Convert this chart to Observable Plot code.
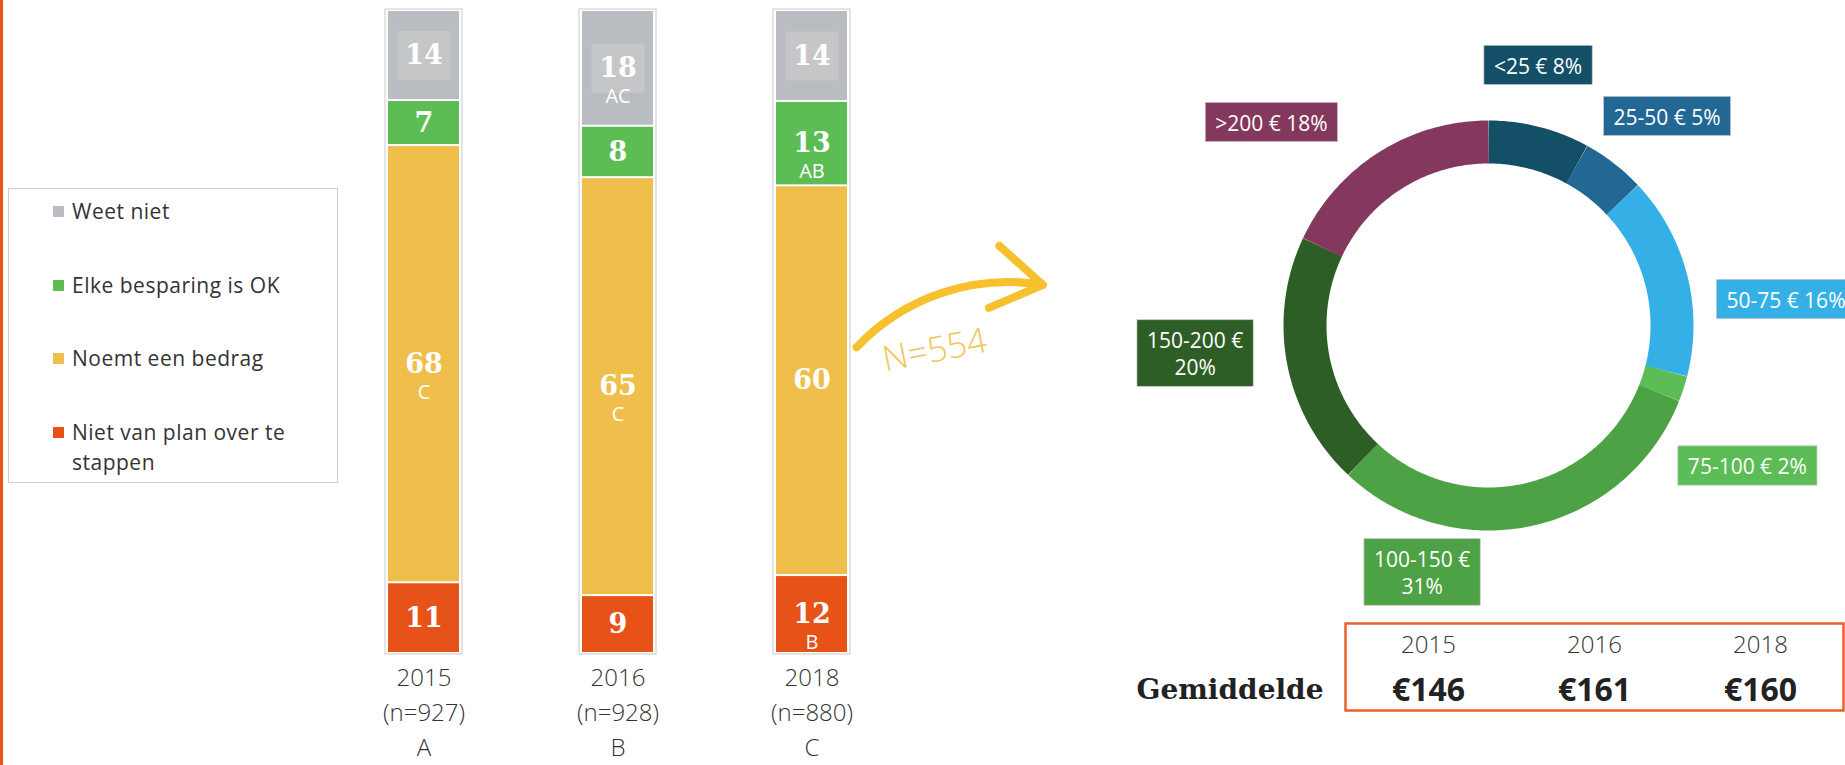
<!DOCTYPE html>
<html>
<head>
<meta charset="utf-8">
<script src="https://cdn.jsdelivr.net/npm/d3@7"></script>
<script src="https://cdn.jsdelivr.net/npm/@observablehq/plot@0.6"></script>
<style>
html, body { margin: 0; padding: 0; background: #fff; }
#root { position: relative; width: 1845px; height: 765px; overflow: hidden; font-family: "Open Sans", sans-serif; }
.abs { position: absolute; }
#edge { left: 0; top: 0; width: 3px; height: 765px; background: #e8541c; }
#legend { left: 8px; top: 188px; width: 330px; height: 295px; border: 1px solid #cfcfcf; box-sizing: border-box; }
.item { position: absolute; left: 44px; display: flex; align-items: flex-start; font-size: 21px; letter-spacing: 0.5px; color: #333; line-height: 30px; width: 270px; }
.sw { width: 11px; height: 11px; margin-right: 8px; margin-top: 10px; flex: none; }
.item span { width: 235px; }
svg { overflow: visible; }
</style>
</head>
<body>
<div id="root">
  <div id="edge" class="abs"></div>
  <div id="legend" class="abs"></div>
  <div id="bars" class="abs" style="left:300px;top:0px;"></div>
  <div id="anno" class="abs" style="left:840px;top:230px;"></div>
  <div id="donut" class="abs" style="left:1100px;top:0px;"></div>
  <div id="table" class="abs" style="left:1100px;top:615px;"></div>
</div>
<script>
// ---------- data ----------
const years = ["2015", "2016", "2018"];
const sampleSizes = ["n=927", "n=928", "n=880"];
const yearLetters = ["A", "B", "C"];

const answers = ["Weet niet", "Elke besparing is OK", "Noemt een bedrag", "Niet van plan over te stappen"];
const answerColors = ["#b9bcc0", "#5cbd55", "#f0be4a", "#e65217"];

const weetNiet = [14, 18, 14];
const elkeBesparing = [7, 8, 13];
const noemtBedrag = [68, 65, 60];
const nietVanPlan = [11, 9, 12];

const sigWeetNiet = ["", "AC", ""];
const sigElke = ["", "", "AB"];
const sigNoemt = ["C", "C", ""];
const sigNiet = ["", "", "B"];

const amountBands = ["<25 €", "25-50 €", "50-75 €", "75-100 €", "100-150 €", "150-200 €", ">200 €"];
const amountShares = [8, 5, 16, 2, 31, 20, 18];
const amountColors = ["#134f66", "#236795", "#35b0e6", "#5cbc55", "#4ca244", "#2d5e25", "#84385e"];
const labelTwoLines = [false, false, false, false, true, true, false];
// label anchor in the donut's unit space (x right, y up; ring radius = 1)
const labelPlacement = [[0.27, 1.42], [0.973, 1.142], [1.621, 0.144], [1.411, -0.763], [-0.362, -1.343], [-1.599, -0.15], [-1.183, 1.109]];

const averageYears = ["2015", "2016", "2018"];
const averageAmounts = [146, 161, 160];

const annotationArrow = [{x1: 7, y1: 27, x2: 88, y2: 66}];
const annotationText = [{x: 41, y: 25, label: "N=554"}];

// ---------- legend ----------
const legend = document.getElementById("legend");
answers.forEach((a, i) => {
  const it = document.createElement("div");
  it.className = "item";
  it.style.top = (7 + i * 73.5) + "px";
  it.innerHTML = `<div class="sw" style="background:${answerColors[i]}"></div><span>${a}</span>`;
  legend.appendChild(it);
});

// ---------- stacked bars ----------
const stackOrder = [answers[3], answers[2], answers[1], answers[0]];
const barRows = years.flatMap((yr, i) => [
  {year: yr, answer: answers[3], value: nietVanPlan[i], sig: sigNiet[i]},
  {year: yr, answer: answers[2], value: noemtBedrag[i], sig: sigNoemt[i]},
  {year: yr, answer: answers[1], value: elkeBesparing[i], sig: sigElke[i]},
  {year: yr, answer: answers[0], value: weetNiet[i], sig: sigWeetNiet[i]}
]);
const stackOpts = {x: "year", y: "value", z: "answer", order: stackOrder, offset: "normalize"};
const boxSymbol = {draw(context) { context.rect(-26.5, -24.5, 53, 49); }};

const barPlot = Plot.plot({
  width: 620, height: 765,
  marginTop: 10, marginBottom: 112, marginLeft: 40, marginRight: 26,
  style: {background: "transparent", fontFamily: "Open Sans", overflow: "visible"},
  x: {type: "band", domain: years, paddingInner: 0.604, paddingOuter: 0.226, axis: null},
  y: {domain: [0, 1], axis: null},
  color: {domain: answers, range: answerColors},
  marks: [
    Plot.barY(years, {x: d => d, y1: 0, y2: 1, fill: "white", stroke: "#c9c9c9", strokeWidth: 1, insetTop: -1, insetBottom: -1}),
    Plot.barY(barRows, Plot.stackY({...stackOpts, fill: "answer", insetLeft: 3, insetRight: 3, insetTop: 1, insetBottom: 1})),
    Plot.dot(barRows, Plot.stackY({...stackOpts, symbol: boxSymbol, r: 10, fill: "#c5c6c8",
      fillOpacity: d => d.answer === answers[0] ? 1 : 0, stroke: null})),
    Plot.text(barRows, Plot.stackY({...stackOpts, text: d => String(d.value), fill: "white",
      fontSize: 27, fontWeight: "bold", fontFamily: "DejaVu Serif"})),
    Plot.text(barRows, Plot.stackY({...stackOpts, text: "sig", dy: 28, fill: "white", fontSize: 20})),
    Plot.text(years, {x: d => d, y: () => 0, text: (d, i) => `${d}\n(${sampleSizes[i]})\n${yearLetters[i]}`,
      lineAnchor: "top", dy: 8, fontSize: 24, lineHeight: 1.45, fill: "#333", fontWeight: 300})
  ]
});
document.getElementById("bars").appendChild(barPlot);

// ---------- arrow annotation ----------
const annoPlot = Plot.plot({
  width: 230, height: 160, margin: 0,
  style: {background: "transparent", fontFamily: "Open Sans", overflow: "visible"},
  x: {domain: [0, 100], axis: null},
  y: {domain: [0, 100], axis: null},
  marks: [
    Plot.arrow(annotationArrow, {x1: "x1", y1: "y1", x2: "x2", y2: "y2", bend: 28, stroke: "#f7c12e",
      strokeWidth: 8, headLength: 11, headAngle: 65, strokeLinecap: "round", strokeLinejoin: "round"}),
    Plot.text(annotationText, {x: "x", y: "y", text: "label", rotate: -11, fontSize: 35, fontWeight: 300, fill: "#f2c557"})
  ]
});
document.getElementById("anno").appendChild(annoPlot);

// ---------- donut ----------
let acc = 0;
const slices = amountBands.map((b, i) => {
  const s = {band: b, share: amountShares[i], start: acc, end: acc + amountShares[i], color: amountColors[i],
    label: labelTwoLines[i] ? `${b}\n${amountShares[i]}%` : `${b} ${amountShares[i]}%`,
    lx: labelPlacement[i][0], ly: labelPlacement[i][1]};
  acc += amountShares[i];
  return s;
});
const ringPoints = slices.flatMap(s => {
  const steps = Math.max(6, Math.ceil(s.share * 4));
  return d3.range(steps + 1).map(k => {
    const f = (s.start + (s.end - s.start) * k / steps) / 100;
    return {band: s.band, x: Math.sin(2 * Math.PI * f), y: Math.cos(2 * Math.PI * f)};
  });
});

const labelFont = 21;
const labelMark = Plot.text(slices, {
  x: "lx", y: "ly", text: "label", fill: "white", fontSize: labelFont, lineHeight: 1.3,
  render(index, scales, values, dimensions, context, next) {
    const g = next(index, scales, values, dimensions, context);
    const ns = "http://www.w3.org/2000/svg";
    const cv = document.createElement("canvas").getContext("2d");
    cv.font = `${labelFont}px "Open Sans"`;
    const bg = document.createElementNS(ns, "g");
    for (const i of index) {
      const lines = slices[i].label.split("\n");
      const w = Math.max(...lines.map(l => cv.measureText(l).width)) + 20;
      const h = lines.length * labelFont * 1.3 + 12;
      const r = document.createElementNS(ns, "rect");
      r.setAttribute("x", values.x[i] - w / 2);
      r.setAttribute("y", values.y[i] - h / 2);
      r.setAttribute("width", w);
      r.setAttribute("height", h);
      r.setAttribute("fill", slices[i].color);
      r.setAttribute("stroke", "#c8c8c8");
      r.setAttribute("stroke-width", 0.7);
      bg.appendChild(r);
    }
    g.insertBefore(bg, g.firstChild);
    return g;
  }
});

const R = 183.5, cx = 388, cy = 325;
const donutPlot = Plot.plot({
  width: 745, height: 620, margin: 0,
  style: {background: "transparent", fontFamily: "Open Sans", overflow: "hidden"},
  x: {domain: [-1, 1], range: [cx - R, cx + R], axis: null},
  y: {domain: [-1, 1], range: [cy + R, cy - R], axis: null},
  color: {domain: amountBands, range: amountColors},
  marks: [
    Plot.line(ringPoints, {x: "x", y: "y", z: "band", stroke: "band", strokeWidth: 43,
      strokeLinecap: "butt", strokeLinejoin: "round", curve: "linear"}),
    labelMark
  ]
});
document.getElementById("donut").appendChild(donutPlot);

// ---------- averages table ----------
const tablePlot = Plot.plot({
  width: 745, height: 105,
  marginLeft: 245, marginRight: 2, marginTop: 8, marginBottom: 10,
  style: {background: "transparent", fontFamily: "Open Sans", overflow: "visible"},
  x: {type: "band", domain: averageYears, padding: 0, axis: null},
  y: {type: "point", domain: ["jaar", "gemiddelde"], range: [30, 75], padding: 0, axis: null},
  marks: [
    Plot.frame({stroke: "#e8622a", strokeWidth: 2.5}),
    Plot.text(averageYears, {x: d => d, y: () => "jaar", text: d => d, fontSize: 24, fontWeight: 300, fill: "#333"}),
    Plot.text(averageAmounts, {x: (d, i) => averageYears[i], y: () => "gemiddelde", text: d => "€" + d,
      fontSize: 32, fontWeight: "bold", fill: "#222"}),
    Plot.text(["Gemiddelde"], {frameAnchor: "left", y: () => "gemiddelde", text: d => d, textAnchor: "end", dx: -22,
      fontSize: 28, fontWeight: "bold", fontFamily: "DejaVu Serif", fill: "#222"})
  ]
});
document.getElementById("table").appendChild(tablePlot);
</script>
</body>
</html>
